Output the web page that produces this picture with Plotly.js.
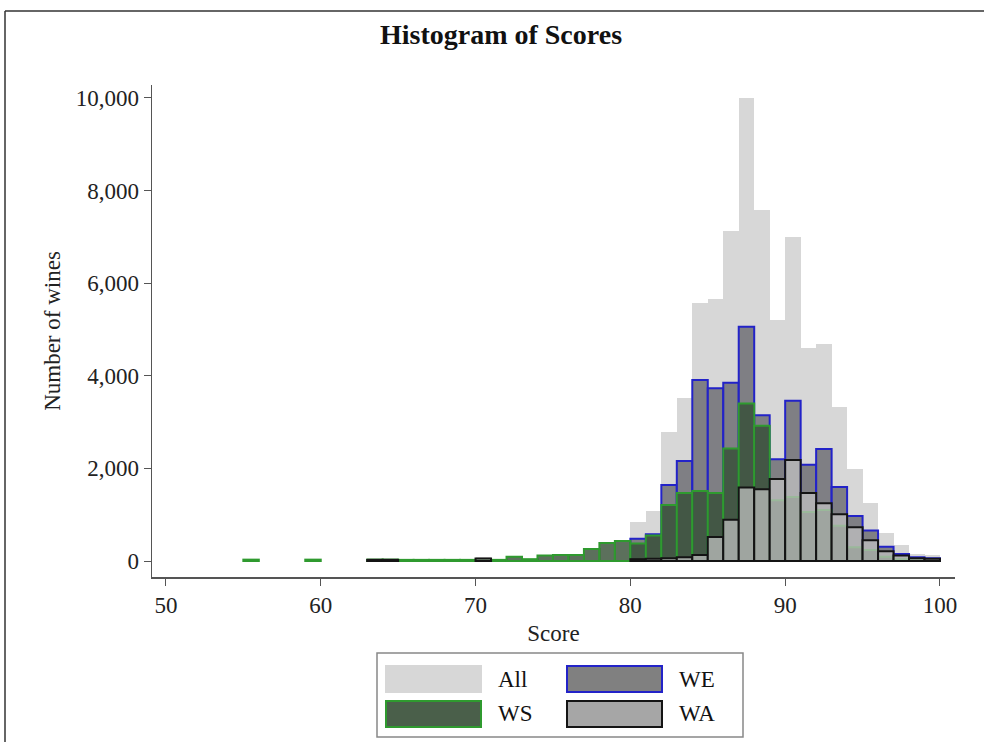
<!DOCTYPE html>
<html>
<head>
<meta charset="utf-8">
<script src="https://cdn.plot.ly/plotly-3.0.1.min.js"></script>
<style>
html,body{margin:0;padding:0;background:#fff;}
#chart{width:984px;height:742px;}
</style>
</head>
<body>
<div id="chart"></div>
<script>
// Histogram bins (left edge of each 1-point bin)
const scoreBins = [55,56,57,58,59,60,61,62,63,64,65,66,67,68,69,70,71,72,73,74,75,76,77,78,79,
                   80,81,82,83,84,85,86,87,88,89,90,91,92,93,94,95,96,97,98,99];
// Number of wines per bin
const allCounts = [30,null,null,null,30,null,null,null,60,60,30,30,30,30,30,80,30,90,40,130,140,140,270,400,450,
                   850,1080,2790,3520,5570,5660,7130,10000,7590,5200,7000,4600,4690,3330,1980,1250,600,340,150,120];
const weCounts  = [null,null,null,null,null,null,null,null,null,null,null,null,null,null,null,null,null,null,null,null,null,null,null,null,null,
                   480,580,1640,2160,3910,3730,3850,5060,3150,2200,3460,2080,2420,1600,970,660,310,150,80,60];
const wsCounts  = [30,null,null,null,30,null,null,null,30,30,25,25,25,25,25,25,25,90,40,120,130,130,260,390,430,
                   380,550,1210,1470,1510,1470,2430,3400,2920,1310,1380,1060,1100,760,300,240,90,40,15,null];
const waCounts  = [null,null,null,null,null,null,null,null,25,25,null,null,null,null,null,55,null,null,null,null,null,null,null,null,null,
                   40,50,60,80,130,520,890,1590,1550,1770,2180,1470,1250,1010,730,450,210,120,60,50];
const seriesNames = ['All','WE','WS','WA'];
const xTicks = [50,60,70,80,90,100];
const yTicks = [0,2000,4000,6000,8000,10000];

const centers = scoreBins.map(b => b + 0.5);
const serif = 'Liberation Serif, Times New Roman, serif';

function barTrace(name, ys, fill, line, lw){
  return {type:'bar', name:name, x:centers, y:ys, width:1,
          marker:{color:fill, line:{color:line, width:lw}},
          hoverinfo:'x+y+name', showlegend:false};
}

const traces = [
  barTrace(seriesNames[0], allCounts, '#d7d7d7', 'rgba(0,0,0,0)', 0),
  barTrace(seriesNames[1], weCounts, 'rgba(112,112,118,0.85)', '#2323c8', 2),
  barTrace(seriesNames[2], wsCounts, 'rgba(45,72,45,0.72)', '#2f9a2f', 2),
  barTrace(seriesNames[3], waCounts, 'rgba(196,196,196,0.72)', '#141414', 2)
];

// geometry helpers (pixel -> paper) for the legend box and outer frame
const L=152, R=955, T=85, B=577;
const px = v => (v - L) / (R - L);
const py = v => (B - v) / (B - T);

const legendItems = [
  {name:seriesNames[0], fill:'#d7d7d7', line:'#d7d7d7', x0:386, y0:666},
  {name:seriesNames[1], fill:'#808080', line:'#2323c8', x0:567, y0:666},
  {name:seriesNames[2], fill:'#4a5f4a', line:'#2f9a2f', x0:386, y0:701},
  {name:seriesNames[3], fill:'#a6a6a6', line:'#141414', x0:567, y0:701}
];
const shapes = [
  // outer frame (top & left)
  {type:'line', xref:'paper', yref:'paper', x0:px(5), x1:px(984), y0:py(11), y1:py(11), line:{color:'#333', width:1.5}},
  {type:'line', xref:'paper', yref:'paper', x0:px(5), x1:px(5), y0:py(11), y1:py(742), line:{color:'#333', width:1.5}},
  // legend frame
  {type:'rect', xref:'paper', yref:'paper', x0:px(377), x1:px(743), y0:py(653), y1:py(737), line:{color:'#888', width:1.5}, fillcolor:'rgba(0,0,0,0)'}
];
const annotations = [];
legendItems.forEach(it => {
  shapes.push({type:'rect', xref:'paper', yref:'paper', x0:px(it.x0), x1:px(it.x0+95), y0:py(it.y0), y1:py(it.y0+26),
               fillcolor:it.fill, line:{color:it.line, width:2}});
  annotations.push({xref:'paper', yref:'paper', x:px(it.x0+110), y:py(it.y0+13), xanchor:'left', yanchor:'middle',
                    text:it.name, showarrow:false, font:{family:serif, size:23, color:'#111'}});
});

const layout = {
  width:984, height:742,
  margin:{l:L, r:984-R, t:T, b:742-B, pad:0},
  paper_bgcolor:'#fff', plot_bgcolor:'#fff',
  barmode:'overlay', bargap:0,
  showlegend:false,
  title:{text:'<b>Histogram of Scores</b>', x:501/984, xref:'container', xanchor:'center',
         y:1-34/742, yref:'container', yanchor:'middle',
         font:{family:serif, size:28, color:'#111'}},
  xaxis:{range:[49.1,100.97], tickvals:xTicks, ticktext:xTicks.map(String),
         showline:true, linecolor:'#555', linewidth:1.5, ticks:'outside', ticklen:7, tickcolor:'#555',
         showgrid:false, zeroline:false, automargin:false,
         tickfont:{family:serif, size:23, color:'#222'},
         title:{text:'Score', font:{family:serif, size:23, color:'#222'}, standoff:8}},
  yaxis:{range:[-345,10280], tickvals:yTicks, ticktext:yTicks.map(v=>v.toLocaleString('en-US')),
         showline:true, linecolor:'#555', linewidth:1.5, ticks:'outside', ticklen:7, tickcolor:'#555',
         showgrid:false, zeroline:false, automargin:false,
         tickfont:{family:serif, size:23, color:'#222'},
         title:{text:'Number of wines', font:{family:serif, size:23, color:'#222'}, standoff:8}},
  shapes:shapes,
  annotations:annotations
};

Plotly.newPlot('chart', traces, layout, {displayModeBar:false, staticPlot:true});
</script>
</body>
</html>
